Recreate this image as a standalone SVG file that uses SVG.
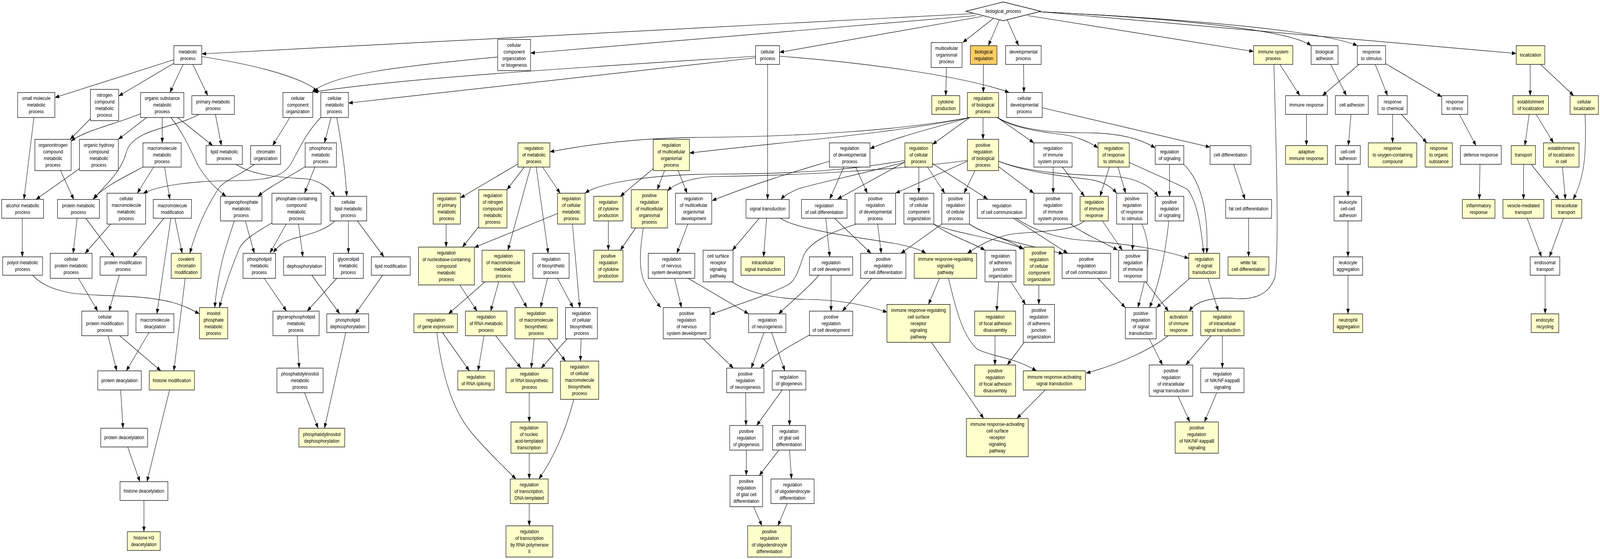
<svg xmlns="http://www.w3.org/2000/svg" width="4813" height="1432" viewBox="0 0 4813 1432" preserveAspectRatio="none">
<style>
svg{width:100vw;height:100vh}
rect,polygon{stroke:#000;stroke-width:1.3;fill:#fff}
.y rect{fill:#ffffcc}
.o rect{fill:#ffcc66}
text{font-family:"Liberation Sans",Arial,sans-serif;font-size:13px;text-anchor:middle;fill:#000}
#edges path{fill:none;stroke:#000;stroke-width:1.2;marker-end:url(#a)}
</style>
<defs><marker id="a" markerWidth="14" markerHeight="12" refX="13" refY="5" orient="auto" markerUnits="userSpaceOnUse"><path d="M0,0 L13,5 L0,10 z" fill="#000" stroke="none"/></marker></defs>
<rect x="0" y="0" width="4813" height="1432" style="fill:#fff;stroke:none"/>
<g id="edges">
<path d="M2925,35 L607,138"/>
<path d="M2935,40 L1596,136"/>
<path d="M2955,42 L2345,134"/>
<path d="M2990,46 L2896,109"/>
<path d="M3006,51 L2973,117"/>
<path d="M3030,51 L3064,117"/>
<path d="M3092,40 L3771,132"/>
<path d="M3118,30 C3500,45 3880,75 3944,117"/>
<path d="M3124,30 C3600,50 3980,80 4083,117"/>
<path d="M3128,30 L4561,137"/>
<path d="M523,153 L165,250"/>
<path d="M523,162 L357,246"/>
<path d="M551,165 L511,237"/>
<path d="M580,165 L625,245"/>
<path d="M607,145 C720,160 900,190 960,236"/>
<path d="M1497,146 C1200,170 1000,190 939,236"/>
<path d="M2273,144 C1800,170 1200,200 943,236"/>
<path d="M2273,148 L1048,264"/>
<path d="M2309,165 L2309,511"/>
<path d="M2345,144 C2600,160 2900,195 3036,237"/>
<path d="M2847,173 L2845,245"/>
<path d="M2958,165 L2958,237"/>
<path d="M3079,165 L3080,237"/>
<path d="M102,301 L72,511"/>
<path d="M272,304 L211,357"/>
<path d="M423,291 C360,315 250,335 214,362"/>
<path d="M441,301 L356,357"/>
<path d="M488,301 L488,366"/>
<path d="M534,301 L640,373"/>
<path d="M514,301 C560,350 580,400 600,430 C630,470 660,490 680,503"/>
<path d="M648,293 L666,373"/>
<path d="M599,293 C520,330 400,330 380,390 C365,440 320,470 282,510"/>
<path d="M182,437 L222,511"/>
<path d="M239,432 L108,511"/>
<path d="M430,428 C370,455 310,480 280,510"/>
<path d="M462,428 L413,495"/>
<path d="M495,428 L511,511"/>
<path d="M710,421 C760,450 850,455 920,458 C960,462 990,480 1007,503"/>
<path d="M765,421 C720,450 680,460 660,480 C620,530 590,590 571,649"/>
<path d="M67,559 L67,658"/>
<path d="M232,559 L220,649"/>
<path d="M258,559 L344,658"/>
<path d="M333,574 L256,649"/>
<path d="M493,559 L400,658"/>
<path d="M526,559 L548,649"/>
<path d="M514,559 L472,804"/>
<path d="M738,566 L765,649"/>
<path d="M705,566 C680,630 655,690 646,788"/>
<path d="M872,301 L820,373"/>
<path d="M996,301 L976,366"/>
<path d="M1013,301 C1030,380 1040,450 1043,503"/>
<path d="M965,301 C920,340 895,390 875,420 C850,455 800,462 700,463 C580,463 480,475 431,495"/>
<path d="M918,427 C880,448 810,478 776,503"/>
<path d="M947,428 L916,495"/>
<path d="M861,574 L812,648"/>
<path d="M898,574 L911,658"/>
<path d="M818,571 C770,595 730,615 718,640 C700,680 680,720 660,788"/>
<path d="M1007,566 C980,590 930,600 880,612 C850,620 835,632 822,647"/>
<path d="M1048,566 L1048,649"/>
<path d="M1075,566 L1155,658"/>
<path d="M98,705 C120,725 150,740 210,750 C300,762 420,752 520,775 C560,785 580,795 600,804"/>
<path d="M795,713 L862,797"/>
<path d="M1013,713 L924,797"/>
<path d="M938,705 L1022,804"/>
<path d="M1151,705 L1069,804"/>
<path d="M894,860 L900,943"/>
<path d="M916,1006 L957,1097"/>
<path d="M1040,852 L976,1097"/>
<path d="M236,713 L294,797"/>
<path d="M359,705 L328,797"/>
<path d="M557,713 L523,950"/>
<path d="M325,860 L351,950"/>
<path d="M360,860 L484,950"/>
<path d="M448,852 L380,950"/>
<path d="M363,999 L370,1097"/>
<path d="M384,1145 L421,1234"/>
<path d="M510,999 L442,1234"/>
<path d="M433,1282 L433,1362"/>
<path d="M2917,301 C2700,335 2400,350 2100,352 C1950,353 1800,365 1654,389"/>
<path d="M2917,301 C2700,340 2400,360 2074,392"/>
<path d="M2917,301 C2800,330 2700,350 2617,381"/>
<path d="M2917,301 L2805,370"/>
<path d="M2957,301 L2957,357"/>
<path d="M3000,301 L3110,366"/>
<path d="M3000,301 C3050,330 3150,340 3200,345 C3240,350 3280,365 3303,379"/>
<path d="M3000,301 C3060,330 3150,340 3250,340 C3350,340 3420,350 3475,379"/>
<path d="M3135,276 L3640,377"/>
<path d="M1558,420 L1385,507"/>
<path d="M1577,428 L1525,486"/>
<path d="M1596,428 L1528,641"/>
<path d="M1632,428 L1685,495"/>
<path d="M1613,428 L1649,649"/>
<path d="M1342,574 L1342,633"/>
<path d="M1440,581 L1391,633"/>
<path d="M1677,547 L1427,634"/>
<path d="M1722,574 L1744,788"/>
<path d="M1965,432 L1866,503"/>
<path d="M1999,437 L1977,486"/>
<path d="M2040,437 L2067,495"/>
<path d="M2910,411 C2700,435 2400,450 2150,452 C2080,455 2030,470 2008,489"/>
<path d="M2722,411 C2600,430 2450,445 2150,446 C1950,447 1800,470 1760,495"/>
<path d="M2495,413 C2450,425 2300,460 2142,514"/>
<path d="M2722,415 C2600,445 2450,470 2400,484 C2380,492 2360,500 2349,511"/>
<path d="M2722,415 L2519,510"/>
<path d="M2538,428 L2496,510"/>
<path d="M2574,428 L2609,495"/>
<path d="M2764,428 L2764,495"/>
<path d="M2790,428 L2842,495"/>
<path d="M2805,419 L2971,510"/>
<path d="M2933,437 L2900,495"/>
<path d="M2910,413 L2694,495"/>
<path d="M3004,427 L3110,495"/>
<path d="M3004,413 C3080,440 3200,452 3280,460 C3320,466 3345,480 3359,495"/>
<path d="M3004,413 C3100,445 3250,448 3350,452 C3420,455 3465,480 3484,503"/>
<path d="M3168,428 L3168,495"/>
<path d="M3196,428 L3262,503"/>
<path d="M2484,559 L2496,658"/>
<path d="M2510,559 L2620,649"/>
<path d="M2640,574 L2651,649"/>
<path d="M2833,574 L2710,649"/>
<path d="M2808,574 C2860,605 2920,620 2963,641"/>
<path d="M2808,574 C2880,600 2980,605 3080,638"/>
<path d="M2916,574 C2960,600 3030,610 3078,638"/>
<path d="M2916,574 C2980,610 3100,630 3198,650"/>
<path d="M3048,559 L3212,649"/>
<path d="M3056,559 C3110,590 3180,610 3250,615 C3400,625 3500,640 3576,662"/>
<path d="M3221,574 C3260,600 3320,620 3362,641"/>
<path d="M3316,566 L3376,641"/>
<path d="M3262,566 C3230,590 3150,592 3060,598 C3000,603 2950,625 2910,649"/>
<path d="M3407,574 L3407,641"/>
<path d="M3435,574 C3470,640 3450,700 3423,788"/>
<path d="M3516,566 C3505,650 3490,720 3458,788"/>
<path d="M3518,421 L3518,503"/>
<path d="M3561,421 C3620,470 3635,560 3630,649"/>
<path d="M3337,428 L3309,503"/>
<path d="M3363,428 L3386,495"/>
<path d="M3397,416 C3470,445 3540,470 3572,485 C3605,520 3615,600 3621,649"/>
<path d="M3850,165 L3910,245"/>
<path d="M3832,165 C3840,400 3848,650 3835,710 C3820,750 3780,768 3720,765 C3650,760 3600,770 3577,797"/>
<path d="M4088,165 L3978,245"/>
<path d="M4003,165 L4050,245"/>
<path d="M3930,293 L3930,373"/>
<path d="M3711,421 L3745,511"/>
<path d="M3756,559 L3756,658"/>
<path d="M3514,860 C3470,890 3380,930 3267,956"/>
<path d="M2826,713 L2793,780"/>
<path d="M2853,712 C2875,790 2895,860 2940,895 C2990,915 3050,915 3118,950"/>
<path d="M3004,722 L2998,797"/>
<path d="M3041,722 L3085,780"/>
<path d="M3125,730 L3125,780"/>
<path d="M2993,860 L2993,935"/>
<path d="M3081,877 L3030,935"/>
<path d="M2802,877 L2959,1072"/>
<path d="M3144,999 L3059,1072"/>
<path d="M3303,713 L3385,788"/>
<path d="M3580,712 L3479,788"/>
<path d="M3634,713 L3665,797"/>
<path d="M3446,722 L3515,797"/>
<path d="M3643,860 L3567,935"/>
<path d="M3677,860 L3677,943"/>
<path d="M3457,868 L3497,935"/>
<path d="M3544,1015 L3579,1081"/>
<path d="M3660,1006 L3623,1081"/>
<path d="M1830,566 L1830,641"/>
<path d="M1912,584 L1866,641"/>
<path d="M1935,584 C1925,640 1920,690 1940,725 C1960,755 1975,775 1988,788"/>
<path d="M2069,574 L2036,649"/>
<path d="M2576,574 C2500,595 2430,620 2415,660 C2400,700 2390,720 2370,730 C2300,760 2200,785 2137,806"/>
<path d="M2029,713 L2050,788"/>
<path d="M2070,713 L2252,804"/>
<path d="M2115,868 L2206,943"/>
<path d="M2298,852 L2260,943"/>
<path d="M2321,852 L2361,950"/>
<path d="M2243,1006 L2244,1090"/>
<path d="M2353,999 L2276,1090"/>
<path d="M2375,999 L2375,1090"/>
<path d="M2245,1153 L2245,1218"/>
<path d="M2343,1153 L2284,1218"/>
<path d="M2375,1153 L2381,1227"/>
<path d="M2267,1298 L2292,1347"/>
<path d="M2368,1290 L2340,1347"/>
<path d="M2463,705 C2440,730 2400,758 2342,804"/>
<path d="M2435,858 C2400,876 2330,905 2287,943"/>
<path d="M2500,705 L2500,797"/>
<path d="M2622,713 L2534,797"/>
<path d="M2284,559 L2203,641"/>
<path d="M2306,559 L2297,658"/>
<path d="M2347,559 C2400,590 2600,610 2700,625 C2740,632 2770,640 2785,649"/>
<path d="M2202,722 C2250,750 2330,765 2420,767 C2520,767 2600,780 2669,800"/>
<path d="M1459,722 L1349,804"/>
<path d="M1500,722 L1476,797"/>
<path d="M1542,722 L1585,788"/>
<path d="M1383,730 L1435,797"/>
<path d="M1331,852 L1412,950"/>
<path d="M1314,852 C1330,960 1360,1050 1420,1110 C1470,1160 1520,1200 1552,1227"/>
<path d="M1456,860 L1438,950"/>
<path d="M1491,860 L1567,943"/>
<path d="M1607,868 L1598,943"/>
<path d="M1649,868 L1701,925"/>
<path d="M1647,713 L1626,788"/>
<path d="M1677,713 L1724,788"/>
<path d="M1748,868 L1746,925"/>
<path d="M1706,868 L1628,943"/>
<path d="M1592,1006 L1592,1081"/>
<path d="M1592,1161 L1592,1227"/>
<path d="M1592,1290 L1592,1347"/>
<path d="M1726,1023 C1700,1110 1660,1180 1621,1227"/>
<path d="M4137,165 L4174,245"/>
<path d="M4168,163 L4337,248"/>
<path d="M4064,293 L4056,373"/>
<path d="M4189,293 L4189,366"/>
<path d="M4216,293 L4292,366"/>
<path d="M4390,293 L4440,373"/>
<path d="M4452,421 L4450,511"/>
<path d="M4603,165 L4603,245"/>
<path d="M4634,165 L4734,245"/>
<path d="M4600,293 L4587,373"/>
<path d="M4621,293 L4673,366"/>
<path d="M4768,293 C4772,380 4770,450 4732,511"/>
<path d="M4583,421 L4583,511"/>
<path d="M4606,421 L4690,511"/>
<path d="M4700,428 L4709,511"/>
<path d="M4055,421 L4055,503"/>
<path d="M4055,566 L4055,658"/>
<path d="M4594,559 L4637,658"/>
<path d="M4703,559 L4661,658"/>
<path d="M4055,705 L4055,804"/>
<path d="M4648,705 L4648,804"/>
</g>
<g id="n1" class="w"><rect x="523" y="117" width="84" height="48"/><text x="565" y="137">metabolic<tspan x="565" dy="17">process</tspan></text></g>
<g id="n2" class="w"><rect x="53" y="237" width="112" height="64"/><text x="109" y="256.5">small molecule<tspan x="109" dy="17">metabolic</tspan><tspan x="109" dy="17">process</tspan></text></g>
<g id="n3" class="w"><rect x="272" y="229" width="85" height="80"/><text x="314.5" y="248">nitrogen<tspan x="314.5" dy="17">compound</tspan><tspan x="314.5" dy="17">metabolic</tspan><tspan x="314.5" dy="17">process</tspan></text></g>
<g id="n4" class="w"><rect x="423" y="237" width="130" height="64"/><text x="488" y="256.5">organic substance<tspan x="488" dy="17">metabolic</tspan><tspan x="488" dy="17">process</tspan></text></g>
<g id="n5" class="w"><rect x="577" y="245" width="128" height="48"/><text x="641" y="265">primary metabolic<tspan x="641" dy="17">process</tspan></text></g>
<g id="n6" class="w"><rect x="105" y="357" width="109" height="80"/><text x="159.5" y="376">organonitrogen<tspan x="159.5" dy="17">compound</tspan><tspan x="159.5" dy="17">metabolic</tspan><tspan x="159.5" dy="17">process</tspan></text></g>
<g id="n7" class="w"><rect x="239" y="357" width="117" height="80"/><text x="297.5" y="376">organic hydroxy<tspan x="297.5" dy="17">compound</tspan><tspan x="297.5" dy="17">metabolic</tspan><tspan x="297.5" dy="17">process</tspan></text></g>
<g id="n8" class="w"><rect x="430" y="366" width="115" height="62"/><text x="487.5" y="384.5">macromolecule<tspan x="487.5" dy="17">metabolic</tspan><tspan x="487.5" dy="17">process</tspan></text></g>
<g id="n9" class="w"><rect x="620" y="373" width="109" height="48"/><text x="674.5" y="393">lipid metabolic<tspan x="674.5" dy="17">process</tspan></text></g>
<g id="n10" class="w"><rect x="754" y="373" width="90" height="48"/><text x="799" y="393">chromatin<tspan x="799" dy="17">organization</tspan></text></g>
<g id="n11" class="w"><rect x="5" y="511" width="126" height="48"/><text x="68" y="531">alcohol metabolic<tspan x="68" dy="17">process</tspan></text></g>
<g id="n12" class="w"><rect x="173" y="511" width="126" height="48"/><text x="236" y="531">protein metabolic<tspan x="236" dy="17">process</tspan></text></g>
<g id="n13" class="w"><rect x="322" y="495" width="116" height="79"/><text x="380" y="513.5">cellular<tspan x="380" dy="17">macromolecule</tspan><tspan x="380" dy="17">metabolic</tspan><tspan x="380" dy="17">process</tspan></text></g>
<g id="n14" class="w"><rect x="461" y="511" width="115" height="48"/><text x="518.5" y="531">macromolecule<tspan x="518.5" dy="17">modification</tspan></text></g>
<g id="n15" class="w"><rect x="663" y="503" width="125" height="63"/><text x="725.5" y="522">organophosphate<tspan x="725.5" dy="17">metabolic</tspan><tspan x="725.5" dy="17">process</tspan></text></g>
<g id="n16" class="w"><rect x="8" y="658" width="120" height="47"/><text x="68" y="677.5">polyol metabolic<tspan x="68" dy="17">process</tspan></text></g>
<g id="n17" class="w"><rect x="151" y="649" width="126" height="64"/><text x="214" y="668.5">cellular<tspan x="214" dy="17">protein metabolic</tspan><tspan x="214" dy="17">process</tspan></text></g>
<g id="n18" class="w"><rect x="301" y="658" width="139" height="47"/><text x="370.5" y="677.5">protein modification<tspan x="370.5" dy="17">process</tspan></text></g>
<g id="n19" class="y"><rect x="515" y="649" width="90" height="64"/><text x="560" y="668.5">covalent<tspan x="560" dy="17">chromatin</tspan><tspan x="560" dy="17">modification</tspan></text></g>
<g id="n20" class="w"><rect x="731" y="649" width="98" height="64"/><text x="780" y="668.5">phospholipid<tspan x="780" dy="17">metabolic</tspan><tspan x="780" dy="17">process</tspan></text></g>
<g id="n21" class="w"><rect x="246" y="797" width="139" height="63"/><text x="315.5" y="816">cellular<tspan x="315.5" dy="17">protein modification</tspan><tspan x="315.5" dy="17">process</tspan></text></g>
<g id="n22" class="w"><rect x="409" y="804" width="114" height="48"/><text x="466" y="824">macromolecule<tspan x="466" dy="17">deacylation</tspan></text></g>
<g id="n23" class="y"><rect x="600" y="788" width="85" height="80"/><text x="642.5" y="807">inositol<tspan x="642.5" dy="17">phosphate</tspan><tspan x="642.5" dy="17">metabolic</tspan><tspan x="642.5" dy="17">process</tspan></text></g>
<g id="n24" class="w"><rect x="294" y="950" width="131" height="49"/><text x="359.5" y="979">protein deacylation</text></g>
<g id="n25" class="y"><rect x="449" y="950" width="136" height="49"/><text x="517" y="979">histone modification</text></g>
<g id="n26" class="w"><rect x="303" y="1097" width="141" height="48"/><text x="373.5" y="1125.5">protein deacetylation</text></g>
<g id="n27" class="w"><rect x="361" y="1234" width="144" height="48"/><text x="433" y="1262.5">histone deacetylation</text></g>
<g id="n28" class="y"><rect x="383" y="1362" width="99" height="48"/><text x="432.5" y="1382">histone H3<tspan x="432.5" dy="17">deacetylation</tspan></text></g>
<g id="n29" class="w"><rect x="1497" y="101" width="99" height="80"/><text x="1546.5" y="120">cellular<tspan x="1546.5" dy="17">component</tspan><tspan x="1546.5" dy="17">organization</tspan><tspan x="1546.5" dy="17">or biogenesis</tspan></text></g>
<g id="n30" class="w"><rect x="851" y="237" width="90" height="64"/><text x="896" y="256.5">cellular<tspan x="896" dy="17">component</tspan><tspan x="896" dy="17">organization</tspan></text></g>
<g id="n31" class="w"><rect x="965" y="237" width="83" height="64"/><text x="1006.5" y="256.5">cellular<tspan x="1006.5" dy="17">metabolic</tspan><tspan x="1006.5" dy="17">process</tspan></text></g>
<g id="n32" class="w"><rect x="918" y="366" width="94" height="62"/><text x="965" y="384.5">phosphorus<tspan x="965" dy="17">metabolic</tspan><tspan x="965" dy="17">process</tspan></text></g>
<g id="n33" class="w"><rect x="818" y="495" width="148" height="79"/><text x="892" y="513.5">phosphate-containing<tspan x="892" dy="17">compound</tspan><tspan x="892" dy="17">metabolic</tspan><tspan x="892" dy="17">process</tspan></text></g>
<g id="n34" class="w"><rect x="993" y="503" width="110" height="63"/><text x="1048" y="522">cellular<tspan x="1048" dy="17">lipid metabolic</tspan><tspan x="1048" dy="17">process</tspan></text></g>
<g id="n35" class="w"><rect x="853" y="658" width="126" height="47"/><text x="916" y="686">dephosphorylation</text></g>
<g id="n36" class="w"><rect x="1003" y="649" width="90" height="64"/><text x="1048" y="668.5">glycerolipid<tspan x="1048" dy="17">metabolic</tspan><tspan x="1048" dy="17">process</tspan></text></g>
<g id="n37" class="w"><rect x="1117" y="658" width="117" height="47"/><text x="1175.5" y="686">lipid modification</text></g>
<g id="n38" class="w"><rect x="821" y="797" width="139" height="63"/><text x="890.5" y="816">glycerophospholipid<tspan x="890.5" dy="17">metabolic</tspan><tspan x="890.5" dy="17">process</tspan></text></g>
<g id="n39" class="w"><rect x="983" y="804" width="126" height="48"/><text x="1046" y="824">phospholipid<tspan x="1046" dy="17">dephosphorylation</tspan></text></g>
<g id="n40" class="w"><rect x="833" y="943" width="139" height="63"/><text x="902.5" y="962">phosphatidylinositol<tspan x="902.5" dy="17">metabolic</tspan><tspan x="902.5" dy="17">process</tspan></text></g>
<g id="n41" class="y"><rect x="899" y="1097" width="138" height="48"/><text x="968" y="1117">phosphatidylinositol<tspan x="968" dy="17">dephosphorylation</tspan></text></g>
<g id="n42" class="y"><rect x="1558" y="366" width="96" height="62"/><text x="1606" y="384.5">regulation<tspan x="1606" dy="17">of metabolic</tspan><tspan x="1606" dy="17">process</tspan></text></g>
<g id="n43" class="y"><rect x="1303" y="495" width="82" height="79"/><text x="1344" y="513.5">regulation<tspan x="1344" dy="17">of primary</tspan><tspan x="1344" dy="17">metabolic</tspan><tspan x="1344" dy="17">process</tspan></text></g>
<g id="n44" class="y"><rect x="1440" y="486" width="85" height="98"/><text x="1482.5" y="505.5">regulation<tspan x="1482.5" dy="17">of nitrogen</tspan><tspan x="1482.5" dy="17">compound</tspan><tspan x="1482.5" dy="17">metabolic</tspan><tspan x="1482.5" dy="17">process</tspan></text></g>
<g id="n45" class="y"><rect x="1259" y="633" width="168" height="97"/><text x="1343" y="652">regulation<tspan x="1343" dy="17">of nucleobase-containing</tspan><tspan x="1343" dy="17">compound</tspan><tspan x="1343" dy="17">metabolic</tspan><tspan x="1343" dy="17">process</tspan></text></g>
<g id="n46" class="y"><rect x="1450" y="641" width="128" height="81"/><text x="1514" y="660.5">regulation<tspan x="1514" dy="17">of macromolecule</tspan><tspan x="1514" dy="17">metabolic</tspan><tspan x="1514" dy="17">process</tspan></text></g>
<g id="n47" class="w"><rect x="1603" y="649" width="109" height="64"/><text x="1657.5" y="668.5">regulation<tspan x="1657.5" dy="17">of biosynthetic</tspan><tspan x="1657.5" dy="17">process</tspan></text></g>
<g id="n48" class="y"><rect x="1677" y="495" width="83" height="79"/><text x="1718.5" y="513.5">regulation<tspan x="1718.5" dy="17">of cellular</tspan><tspan x="1718.5" dy="17">metabolic</tspan><tspan x="1718.5" dy="17">process</tspan></text></g>
<g id="n49" class="y"><rect x="1245" y="804" width="131" height="48"/><text x="1310.5" y="824">regulation<tspan x="1310.5" dy="17">of gene expression</tspan></text></g>
<g id="n50" class="y"><rect x="1400" y="797" width="125" height="63"/><text x="1462.5" y="816">regulation<tspan x="1462.5" dy="17">of RNA metabolic</tspan><tspan x="1462.5" dy="17">process</tspan></text></g>
<g id="n51" class="y"><rect x="1549" y="788" width="128" height="80"/><text x="1613" y="807">regulation<tspan x="1613" dy="17">of macromolecule</tspan><tspan x="1613" dy="17">biosynthetic</tspan><tspan x="1613" dy="17">process</tspan></text></g>
<g id="n52" class="w"><rect x="1701" y="788" width="96" height="80"/><text x="1749" y="807">regulation<tspan x="1749" dy="17">of cellular</tspan><tspan x="1749" dy="17">biosynthetic</tspan><tspan x="1749" dy="17">process</tspan></text></g>
<g id="n53" class="y"><rect x="1377" y="950" width="110" height="49"/><text x="1432" y="970.5">regulation<tspan x="1432" dy="17">of RNA splicing</tspan></text></g>
<g id="n54" class="y"><rect x="1522" y="943" width="141" height="63"/><text x="1592.5" y="962">regulation<tspan x="1592.5" dy="17">of RNA biosynthetic</tspan><tspan x="1592.5" dy="17">process</tspan></text></g>
<g id="n55" class="y"><rect x="1686" y="925" width="115" height="98"/><text x="1743.5" y="944.5">regulation<tspan x="1743.5" dy="17">of cellular</tspan><tspan x="1743.5" dy="17">macromolecule</tspan><tspan x="1743.5" dy="17">biosynthetic</tspan><tspan x="1743.5" dy="17">process</tspan></text></g>
<g id="n56" class="y"><rect x="1537" y="1081" width="109" height="80"/><text x="1591.5" y="1100">regulation<tspan x="1591.5" dy="17">of nucleic</tspan><tspan x="1591.5" dy="17">acid-templated</tspan><tspan x="1591.5" dy="17">transcription</tspan></text></g>
<g id="n57" class="y"><rect x="1535" y="1227" width="114" height="63"/><text x="1592" y="1246">regulation<tspan x="1592" dy="17">of transcription,</tspan><tspan x="1592" dy="17">DNA-templated</tspan></text></g>
<g id="n58" class="y"><rect x="1522" y="1347" width="141" height="80"/><text x="1592.5" y="1366">regulation<tspan x="1592.5" dy="17">of transcription</tspan><tspan x="1592.5" dy="17">by RNA polymerase</tspan><tspan x="1592.5" dy="17">II</tspan></text></g>
<g id="n59" class="w"><rect x="2273" y="117" width="72" height="48"/><text x="2309" y="137">cellular<tspan x="2309" dy="17">process</tspan></text></g>
<g id="n60" class="y"><rect x="1965" y="357" width="109" height="80"/><text x="2019.5" y="376">regulation<tspan x="2019.5" dy="17">of multicellular</tspan><tspan x="2019.5" dy="17">organismal</tspan><tspan x="2019.5" dy="17">process</tspan></text></g>
<g id="n61" class="y"><rect x="1786" y="503" width="88" height="63"/><text x="1830" y="522">regulation<tspan x="1830" dy="17">of cytokine</tspan><tspan x="1830" dy="17">production</tspan></text></g>
<g id="n62" class="y"><rect x="1899" y="486" width="109" height="98"/><text x="1953.5" y="505.5">positive<tspan x="1953.5" dy="17">regulation</tspan><tspan x="1953.5" dy="17">of multicellular</tspan><tspan x="1953.5" dy="17">organismal</tspan><tspan x="1953.5" dy="17">process</tspan></text></g>
<g id="n63" class="w"><rect x="2032" y="495" width="109" height="79"/><text x="2086.5" y="513.5">regulation<tspan x="2086.5" dy="17">of multicellular</tspan><tspan x="2086.5" dy="17">organismal</tspan><tspan x="2086.5" dy="17">development</tspan></text></g>
<g id="n64" class="w"><rect x="2244" y="511" width="130" height="48"/><text x="2309" y="539.5">signal transduction</text></g>
<g id="n65" class="y"><rect x="1786" y="641" width="88" height="81"/><text x="1830" y="660.5">positive<tspan x="1830" dy="17">regulation</tspan><tspan x="1830" dy="17">of cytokine</tspan><tspan x="1830" dy="17">production</tspan></text></g>
<g id="n66" class="w"><rect x="1950" y="649" width="140" height="64"/><text x="2020" y="668.5">regulation<tspan x="2020" dy="17">of nervous</tspan><tspan x="2020" dy="17">system development</tspan></text></g>
<g id="n67" class="w"><rect x="2115" y="641" width="90" height="81"/><text x="2160" y="660.5">cell surface<tspan x="2160" dy="17">receptor</tspan><tspan x="2160" dy="17">signaling</tspan><tspan x="2160" dy="17">pathway</tspan></text></g>
<g id="n68" class="y"><rect x="2229" y="658" width="131" height="47"/><text x="2294.5" y="677.5">intracellular<tspan x="2294.5" dy="17">signal transduction</tspan></text></g>
<g id="n69" class="w"><rect x="1995" y="788" width="141" height="80"/><text x="2065.5" y="807">positive<tspan x="2065.5" dy="17">regulation</tspan><tspan x="2065.5" dy="17">of nervous</tspan><tspan x="2065.5" dy="17">system development</tspan></text></g>
<g id="n70" class="w"><rect x="2252" y="804" width="112" height="48"/><text x="2308" y="824">regulation<tspan x="2308" dy="17">of neurogenesis</tspan></text></g>
<g id="n71" class="w"><rect x="2186" y="943" width="112" height="63"/><text x="2242" y="962">positive<tspan x="2242" dy="17">regulation</tspan><tspan x="2242" dy="17">of neurogenesis</tspan></text></g>
<g id="n72" class="w"><rect x="2323" y="950" width="101" height="49"/><text x="2373.5" y="970.5">regulation<tspan x="2373.5" dy="17">of gliogenesis</tspan></text></g>
<g id="n73" class="w"><rect x="2195" y="1090" width="100" height="63"/><text x="2245" y="1109">positive<tspan x="2245" dy="17">regulation</tspan><tspan x="2245" dy="17">of gliogenesis</tspan></text></g>
<g id="n74" class="w"><rect x="2324" y="1090" width="99" height="63"/><text x="2373.5" y="1109">regulation<tspan x="2373.5" dy="17">of glial cell</tspan><tspan x="2373.5" dy="17">differentiation</tspan></text></g>
<g id="n75" class="w"><rect x="2196" y="1218" width="98" height="80"/><text x="2245" y="1237">positive<tspan x="2245" dy="17">regulation</tspan><tspan x="2245" dy="17">of glial cell</tspan><tspan x="2245" dy="17">differentiation</tspan></text></g>
<g id="n76" class="w"><rect x="2319" y="1227" width="130" height="63"/><text x="2384" y="1246">regulation<tspan x="2384" dy="17">of oligodendrocyte</tspan><tspan x="2384" dy="17">differentiation</tspan></text></g>
<g id="n77" class="y"><rect x="2249" y="1347" width="131" height="80"/><text x="2314.5" y="1366">positive<tspan x="2314.5" dy="17">regulation</tspan><tspan x="2314.5" dy="17">of oligodendrocyte</tspan><tspan x="2314.5" dy="17">differentiation</tspan></text></g>
<g id="n78" class="w"><polygon points="2905,29 3018,5 3131,29 3018,53"/><text x="3018" y="33.5">biological_process</text></g>
<g id="n79" class="w"><rect x="2801" y="109" width="93" height="64"/><text x="2847.5" y="128.5">multicellular<tspan x="2847.5" dy="17">organismal</tspan><tspan x="2847.5" dy="17">process</tspan></text></g>
<g id="n80" class="o"><rect x="2919" y="117" width="80" height="48"/><text x="2959" y="137">biological<tspan x="2959" dy="17">regulation</tspan></text></g>
<g id="n81" class="w"><rect x="3025" y="117" width="107" height="48"/><text x="3078.5" y="137">developmental<tspan x="3078.5" dy="17">process</tspan></text></g>
<g id="n82" class="y"><rect x="2803" y="245" width="84" height="48"/><text x="2845" y="265">cytokine<tspan x="2845" dy="17">production</tspan></text></g>
<g id="n83" class="y"><rect x="2910" y="237" width="94" height="64"/><text x="2957" y="256.5">regulation<tspan x="2957" dy="17">of biological</tspan><tspan x="2957" dy="17">process</tspan></text></g>
<g id="n84" class="w"><rect x="3028" y="237" width="107" height="64"/><text x="3081.5" y="256.5">cellular<tspan x="3081.5" dy="17">developmental</tspan><tspan x="3081.5" dy="17">process</tspan></text></g>
<g id="n85" class="w"><rect x="2495" y="366" width="122" height="62"/><text x="2556" y="384.5">regulation<tspan x="2556" dy="17">of developmental</tspan><tspan x="2556" dy="17">process</tspan></text></g>
<g id="n86" class="y"><rect x="2722" y="366" width="83" height="62"/><text x="2763.5" y="384.5">regulation<tspan x="2763.5" dy="17">of cellular</tspan><tspan x="2763.5" dy="17">process</tspan></text></g>
<g id="n87" class="y"><rect x="2910" y="357" width="94" height="80"/><text x="2957" y="376">positive<tspan x="2957" dy="17">regulation</tspan><tspan x="2957" dy="17">of biological</tspan><tspan x="2957" dy="17">process</tspan></text></g>
<g id="n88" class="w"><rect x="3110" y="366" width="115" height="62"/><text x="3167.5" y="384.5">regulation<tspan x="3167.5" dy="17">of immune</tspan><tspan x="3167.5" dy="17">system process</tspan></text></g>
<g id="n89" class="w"><rect x="2411" y="511" width="137" height="48"/><text x="2479.5" y="531">regulation<tspan x="2479.5" dy="17">of cell differentiation</tspan></text></g>
<g id="n90" class="w"><rect x="2572" y="495" width="122" height="79"/><text x="2633" y="513.5">positive<tspan x="2633" dy="17">regulation</tspan><tspan x="2633" dy="17">of developmental</tspan><tspan x="2633" dy="17">process</tspan></text></g>
<g id="n91" class="w"><rect x="2719" y="495" width="90" height="79"/><text x="2764" y="513.5">regulation<tspan x="2764" dy="17">of cellular</tspan><tspan x="2764" dy="17">component</tspan><tspan x="2764" dy="17">organization</tspan></text></g>
<g id="n92" class="w"><rect x="2833" y="495" width="83" height="79"/><text x="2874.5" y="513.5">positive<tspan x="2874.5" dy="17">regulation</tspan><tspan x="2874.5" dy="17">of cellular</tspan><tspan x="2874.5" dy="17">process</tspan></text></g>
<g id="n93" class="w"><rect x="2940" y="511" width="147" height="48"/><text x="3013.5" y="531">regulation<tspan x="3013.5" dy="17">of cell communication</tspan></text></g>
<g id="n94" class="w"><rect x="3110" y="495" width="115" height="79"/><text x="3167.5" y="513.5">positive<tspan x="3167.5" dy="17">regulation</tspan><tspan x="3167.5" dy="17">of immune</tspan><tspan x="3167.5" dy="17">system process</tspan></text></g>
<g id="n95" class="w"><rect x="2435" y="658" width="130" height="47"/><text x="2500" y="677.5">regulation<tspan x="2500" dy="17">of cell development</tspan></text></g>
<g id="n96" class="w"><rect x="2589" y="649" width="136" height="64"/><text x="2657" y="668.5">positive<tspan x="2657" dy="17">regulation</tspan><tspan x="2657" dy="17">of cell differentiation</tspan></text></g>
<g id="n97" class="y"><rect x="2750" y="649" width="188" height="64"/><text x="2844" y="668.5">immune response-regulating<tspan x="2844" dy="17">signaling</tspan><tspan x="2844" dy="17">pathway</tspan></text></g>
<g id="n98" class="w"><rect x="2963" y="641" width="93" height="81"/><text x="3009.5" y="660.5">regulation<tspan x="3009.5" dy="17">of adherens</tspan><tspan x="3009.5" dy="17">junction</tspan><tspan x="3009.5" dy="17">organization</tspan></text></g>
<g id="n99" class="y"><rect x="3080" y="633" width="91" height="97"/><text x="3125.5" y="652">positive<tspan x="3125.5" dy="17">regulation</tspan><tspan x="3125.5" dy="17">of cellular</tspan><tspan x="3125.5" dy="17">component</tspan><tspan x="3125.5" dy="17">organization</tspan></text></g>
<g id="n100" class="w"><rect x="3195" y="649" width="146" height="64"/><text x="3268" y="668.5">positive<tspan x="3268" dy="17">regulation</tspan><tspan x="3268" dy="17">of cell communication</tspan></text></g>
<g id="n101" class="w"><rect x="2435" y="797" width="130" height="63"/><text x="2500" y="816">positive<tspan x="2500" dy="17">regulation</tspan><tspan x="2500" dy="17">of cell development</tspan></text></g>
<g id="n102" class="y"><rect x="2668" y="780" width="190" height="97"/><text x="2763" y="799">immune response-regulating<tspan x="2763" dy="17">cell surface</tspan><tspan x="2763" dy="17">receptor</tspan><tspan x="2763" dy="17">signaling</tspan><tspan x="2763" dy="17">pathway</tspan></text></g>
<g id="n103" class="y"><rect x="2932" y="797" width="123" height="63"/><text x="2993.5" y="816">regulation<tspan x="2993.5" dy="17">of focal adhesion</tspan><tspan x="2993.5" dy="17">disassembly</tspan></text></g>
<g id="n104" class="w"><rect x="3078" y="780" width="94" height="97"/><text x="3125" y="799">positive<tspan x="3125" dy="17">regulation</tspan><tspan x="3125" dy="17">of adherens</tspan><tspan x="3125" dy="17">junction</tspan><tspan x="3125" dy="17">organization</tspan></text></g>
<g id="n105" class="y"><rect x="2932" y="935" width="123" height="80"/><text x="2993.5" y="954">positive<tspan x="2993.5" dy="17">regulation</tspan><tspan x="2993.5" dy="17">of focal adhesion</tspan><tspan x="2993.5" dy="17">disassembly</tspan></text></g>
<g id="n106" class="y"><rect x="3078" y="950" width="187" height="49"/><text x="3171.5" y="970.5">immune response-activating<tspan x="3171.5" dy="17">signal transduction</tspan></text></g>
<g id="n107" class="y"><rect x="2907" y="1072" width="186" height="98"/><text x="3000" y="1091.5">immune response-activating<tspan x="3000" dy="17">cell surface</tspan><tspan x="3000" dy="17">receptor</tspan><tspan x="3000" dy="17">signaling</tspan><tspan x="3000" dy="17">pathway</tspan></text></g>
<g id="n108" class="y"><rect x="3771" y="117" width="118" height="48"/><text x="3830" y="137">immune system<tspan x="3830" dy="17">process</tspan></text></g>
<g id="n109" class="w"><rect x="3944" y="117" width="81" height="48"/><text x="3984.5" y="137">biological<tspan x="3984.5" dy="17">adhesion</tspan></text></g>
<g id="n110" class="w"><rect x="3867" y="245" width="126" height="48"/><text x="3930" y="273.5">immune response</text></g>
<g id="n111" class="y"><rect x="3303" y="366" width="94" height="62"/><text x="3350" y="384.5">regulation<tspan x="3350" dy="17">of response</tspan><tspan x="3350" dy="17">to stimulus</tspan></text></g>
<g id="n112" class="w"><rect x="3475" y="373" width="86" height="48"/><text x="3518" y="393">regulation<tspan x="3518" dy="17">of signaling</tspan></text></g>
<g id="n113" class="w"><rect x="3640" y="373" width="123" height="48"/><text x="3701.5" y="401.5">cell differentiation</text></g>
<g id="n114" class="y"><rect x="3867" y="373" width="126" height="48"/><text x="3930" y="393">adaptive<tspan x="3930" dy="17">immune response</tspan></text></g>
<g id="n115" class="y"><rect x="3249" y="503" width="85" height="63"/><text x="3291.5" y="522">regulation<tspan x="3291.5" dy="17">of immune</tspan><tspan x="3291.5" dy="17">response</tspan></text></g>
<g id="n116" class="w"><rect x="3359" y="495" width="93" height="79"/><text x="3405.5" y="513.5">positive<tspan x="3405.5" dy="17">regulation</tspan><tspan x="3405.5" dy="17">of response</tspan><tspan x="3405.5" dy="17">to stimulus</tspan></text></g>
<g id="n117" class="w"><rect x="3475" y="503" width="86" height="63"/><text x="3518" y="522">positive<tspan x="3518" dy="17">regulation</tspan><tspan x="3518" dy="17">of signaling</tspan></text></g>
<g id="n118" class="w"><rect x="3687" y="511" width="138" height="48"/><text x="3756" y="539.5">fat cell differentiation</text></g>
<g id="n119" class="w"><rect x="3365" y="641" width="86" height="81"/><text x="3408" y="660.5">positive<tspan x="3408" dy="17">regulation</tspan><tspan x="3408" dy="17">of immune</tspan><tspan x="3408" dy="17">response</tspan></text></g>
<g id="n120" class="y"><rect x="3576" y="649" width="93" height="64"/><text x="3622.5" y="668.5">regulation<tspan x="3622.5" dy="17">of signal</tspan><tspan x="3622.5" dy="17">transduction</tspan></text></g>
<g id="n121" class="y"><rect x="3694" y="658" width="123" height="47"/><text x="3755.5" y="677.5">white fat<tspan x="3755.5" dy="17">cell differentiation</tspan></text></g>
<g id="n122" class="w"><rect x="3385" y="788" width="93" height="80"/><text x="3431.5" y="807">positive<tspan x="3431.5" dy="17">regulation</tspan><tspan x="3431.5" dy="17">of signal</tspan><tspan x="3431.5" dy="17">transduction</tspan></text></g>
<g id="n123" class="y"><rect x="3503" y="797" width="85" height="63"/><text x="3545.5" y="816">activation<tspan x="3545.5" dy="17">of immune</tspan><tspan x="3545.5" dy="17">response</tspan></text></g>
<g id="n124" class="y"><rect x="3612" y="797" width="130" height="63"/><text x="3677" y="816">regulation<tspan x="3677" dy="17">of intracellular</tspan><tspan x="3677" dy="17">signal transduction</tspan></text></g>
<g id="n125" class="w"><rect x="3457" y="935" width="131" height="80"/><text x="3522.5" y="954">positive<tspan x="3522.5" dy="17">regulation</tspan><tspan x="3522.5" dy="17">of intracellular</tspan><tspan x="3522.5" dy="17">signal transduction</tspan></text></g>
<g id="n126" class="w"><rect x="3612" y="943" width="130" height="63"/><text x="3677" y="962">regulation<tspan x="3677" dy="17">of NIK/NF-kappaB</tspan><tspan x="3677" dy="17">signaling</tspan></text></g>
<g id="n127" class="y"><rect x="3535" y="1081" width="130" height="80"/><text x="3600" y="1100">positive<tspan x="3600" dy="17">regulation</tspan><tspan x="3600" dy="17">of NIK/NF-kappaB</tspan><tspan x="3600" dy="17">signaling</tspan></text></g>
<g id="n128" class="w"><rect x="4083" y="117" width="85" height="48"/><text x="4125.5" y="137">response<tspan x="4125.5" dy="17">to stimulus</tspan></text></g>
<g id="n129" class="y"><rect x="4561" y="117" width="86" height="48"/><text x="4604" y="145.5">localization</text></g>
<g id="n130" class="w"><rect x="4017" y="245" width="99" height="48"/><text x="4066.5" y="273.5">cell adhesion</text></g>
<g id="n131" class="w"><rect x="4145" y="245" width="88" height="48"/><text x="4189" y="265">response<tspan x="4189" dy="17">to chemical</tspan></text></g>
<g id="n132" class="w"><rect x="4337" y="245" width="78" height="48"/><text x="4376" y="265">response<tspan x="4376" dy="17">to stress</tspan></text></g>
<g id="n133" class="y"><rect x="4551" y="245" width="107" height="48"/><text x="4604.5" y="265">establishment<tspan x="4604.5" dy="17">of localization</tspan></text></g>
<g id="n134" class="y"><rect x="4723" y="245" width="85" height="48"/><text x="4765.5" y="265">cellular<tspan x="4765.5" dy="17">localization</tspan></text></g>
<g id="n135" class="w"><rect x="4017" y="373" width="75" height="48"/><text x="4054.5" y="393">cell-cell<tspan x="4054.5" dy="17">adhesion</tspan></text></g>
<g id="n136" class="y"><rect x="4116" y="366" width="146" height="62"/><text x="4189" y="384.5">response<tspan x="4189" dy="17">to oxygen-containing</tspan><tspan x="4189" dy="17">compound</tspan></text></g>
<g id="n137" class="y"><rect x="4287" y="366" width="82" height="62"/><text x="4328" y="384.5">response<tspan x="4328" dy="17">to organic</tspan><tspan x="4328" dy="17">substance</tspan></text></g>
<g id="n138" class="w"><rect x="4393" y="373" width="123" height="48"/><text x="4454.5" y="401.5">defense response</text></g>
<g id="n139" class="y"><rect x="4546" y="373" width="73" height="48"/><text x="4582.5" y="401.5">transport</text></g>
<g id="n140" class="y"><rect x="4643" y="366" width="107" height="62"/><text x="4696.5" y="384.5">establishment<tspan x="4696.5" dy="17">of localization</tspan><tspan x="4696.5" dy="17">in cell</tspan></text></g>
<g id="n141" class="w"><rect x="4013" y="503" width="83" height="63"/><text x="4054.5" y="522">leukocyte<tspan x="4054.5" dy="17">cell-cell</tspan><tspan x="4054.5" dy="17">adhesion</tspan></text></g>
<g id="n142" class="y"><rect x="4399" y="511" width="98" height="48"/><text x="4448" y="531">inflammatory<tspan x="4448" dy="17">response</tspan></text></g>
<g id="n143" class="y"><rect x="4521" y="511" width="123" height="48"/><text x="4582.5" y="531">vesicle-mediated<tspan x="4582.5" dy="17">transport</tspan></text></g>
<g id="n144" class="y"><rect x="4667" y="511" width="91" height="48"/><text x="4712.5" y="531">intracellular<tspan x="4712.5" dy="17">transport</tspan></text></g>
<g id="n145" class="w"><rect x="4011" y="658" width="88" height="47"/><text x="4055" y="677.5">leukocyte<tspan x="4055" dy="17">aggregation</tspan></text></g>
<g id="n146" class="w"><rect x="4603" y="658" width="89" height="47"/><text x="4647.5" y="677.5">endosomal<tspan x="4647.5" dy="17">transport</tspan></text></g>
<g id="n147" class="y"><rect x="4011" y="804" width="88" height="48"/><text x="4055" y="824">neutrophil<tspan x="4055" dy="17">aggregation</tspan></text></g>
<g id="n148" class="y"><rect x="4606" y="804" width="83" height="48"/><text x="4647.5" y="824">endocytic<tspan x="4647.5" dy="17">recycling</tspan></text></g>
</svg>
